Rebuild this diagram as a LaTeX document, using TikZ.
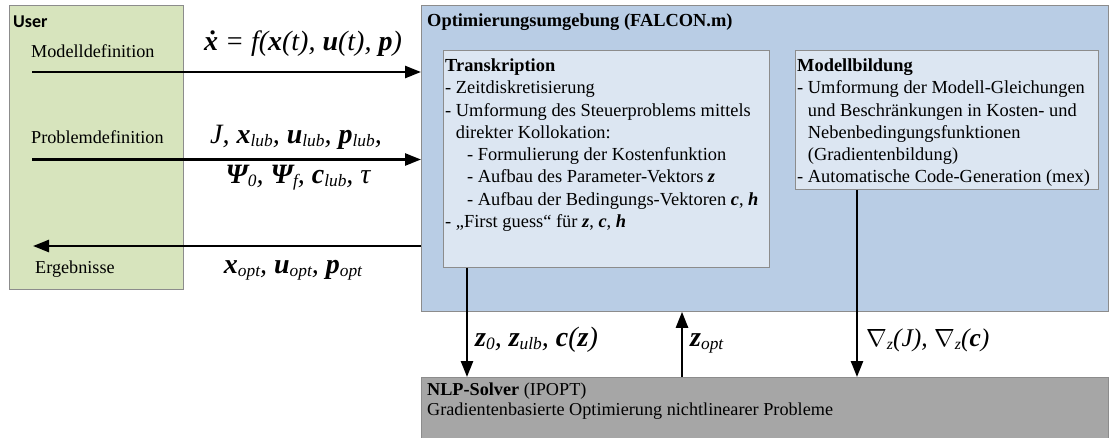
\documentclass[tikz,border=0pt]{standalone}
\usepackage{fontspec}
\usepackage{graphicx}
\setmainfont{Liberation Serif}
\newfontfamily\headsans{Carlito}
\usetikzlibrary{arrows.meta}

\definecolor{usergreen}{HTML}{D7E4BD}
\definecolor{envblue}{HTML}{B9CDE5}
\definecolor{innerblue}{HTML}{DCE6F2}
\definecolor{solvergray}{HTML}{A6A6A6}
\definecolor{frame}{HTML}{8C8C8C}

% bold italic vector symbols and italic subscripts
\newcommand{\bv}[1]{\textbf{\textit{#1}}}
\newcommand{\sbs}[1]{\raisebox{-0.12em}{\scalebox{0.62}{\textit{#1}}}}

\begin{document}
\begin{tikzpicture}[x=1pt,y=-1pt,
  panel/.style={draw=frame, line width=0.8pt, inner sep=0pt, anchor=north west},
  flow/.style={line width=2.5pt, -{Triangle[length=16pt,width=12pt]}},
  body/.style={font=\fontsize{18.4}{22.3}\selectfont, align=left, inner sep=0pt},
  label/.style={font=\fontsize{18.2}{22}\selectfont, inner sep=0pt, anchor=base west},
  formula/.style={font=\fontsize{28}{32}\selectfont\itshape, inner sep=0pt, anchor=base}]

\useasboundingbox (0,0) rectangle (1110,437);

% containers
\node[panel, fill=usergreen, minimum width=174pt, minimum height=284pt] (user) at (9,5) {};
\node[panel, fill=envblue, minimum width=687pt, minimum height=306pt] (opt) at (421,5) {};
\node[panel, fill=innerblue, minimum width=326pt, minimum height=217pt] (trans) at (443,50) {};
\node[panel, fill=innerblue, minimum width=303pt, minimum height=139pt] (model) at (795,50) {};
\node[panel, fill=solvergray, minimum width=687pt, minimum height=70pt] (nlp) at (421,377) {};

% titles
\node[font=\headsans\bfseries\fontsize{18}{20}\selectfont, anchor=base west, inner sep=0pt] (usertitle) at (13,27) {User};
\node[label, font=\bfseries\fontsize{18.4}{22}\selectfont] (opttitle) at (427,26) {Optimierungsumgebung (FALCON.m)};

% user side labels
\node[label] (lmodel) at (31,57) {Modelldefinition};
\node[label] (lproblem) at (31,143) {Problemdefinition};
\node[label] (lresult) at (35,273) {Ergebnisse};

% inner box texts
\node[body, anchor=north west] (transtext) at (445,58.5) {%
\textbf{Transkription}\\
- Zeitdiskretisierung\\
- Umformung des Steuerproblems mittels\\
\hphantom{- }direkter Kollokation:\\
\hspace*{22pt}- Formulierung der Kostenfunktion\\
\hspace*{22pt}- Aufbau des Parameter-Vektors \bv{z}\\
\hspace*{22pt}- Aufbau der Bedingungs-Vektoren \bv{c}, \bv{h}\\
- „First guess“ für \bv{z}, \bv{c}, \bv{h}};

\node[body, anchor=north west] (modeltext) at (797,58.5) {%
\textbf{Modellbildung}\\
- Umformung der Modell-Gleichungen\\
\hphantom{- }und Beschränkungen in Kosten- und\\
\hphantom{- }Nebenbedingungsfunktionen\\
\hphantom{- }(Gradientenbildung)\\
- Automatische Code-Generation (mex)};

\node[body, font=\fontsize{18.2}{20}\selectfont, anchor=north west] (nlptext) at (427,382.5) {%
\textbf{NLP-Solver} (IPOPT)\\
Gradientenbasierte Optimierung nichtlinearer Probleme};

% horizontal connectors
\coordinate (mdstart) at (32,72);
\coordinate (pdstart) at (32,159.5);
\coordinate (resend) at (33,246);
\draw[flow] (mdstart) -- (mdstart -| opt.west);
\draw[flow] (pdstart) -- (pdstart -| opt.west);
\draw[flow] (resend -| opt.west) -- (resend);

\node[formula] (fmodel) at (303,50) {\bv{ẋ} = f(\bv{x}(t), \bv{u}(t), \bv{p})};
\node[formula] (fprob1) at (296,143) {J, \bv{x}\sbs{lub}, \bv{u}\sbs{lub}, \bv{p}\sbs{lub},};
\node[formula] (fprob2) at (298,183) {\bv{Ψ}\sbs{0}, \bv{Ψ}\sbs{f}, \bv{c}\sbs{lub}, τ};
\node[formula] (fres) at (293,273) {\bv{x}\sbs{opt}, \bv{u}\sbs{opt}, \bv{p}\sbs{opt}};

% vertical connectors
\coordinate (tdown) at (467,0);
\coordinate (zup) at (682,0);
\coordinate (gdown) at (857,0);
\draw[flow] (tdown |- trans.south) -- (tdown |- nlp.north);
\draw[flow] (zup |- nlp.north) -- (zup |- opt.south);
\draw[flow] (gdown |- model.south) -- (gdown |- nlp.north);

\node[formula, anchor=base west] (fz) at (475,346) {\bv{z}\sbs{0}, \bv{z}\sbs{ulb}, \bv{c}(\bv{z})};
\node[formula, anchor=base west] (fzopt) at (690,346) {\bv{z}\sbs{opt}};
\node[formula, anchor=base west, font=\fontsize{25.5}{30}\selectfont\itshape] (fgrad) at (866,346) {$\nabla$\sbs{z}(J), $\nabla$\sbs{z}(\bv{c})};

\end{tikzpicture}
\end{document}
